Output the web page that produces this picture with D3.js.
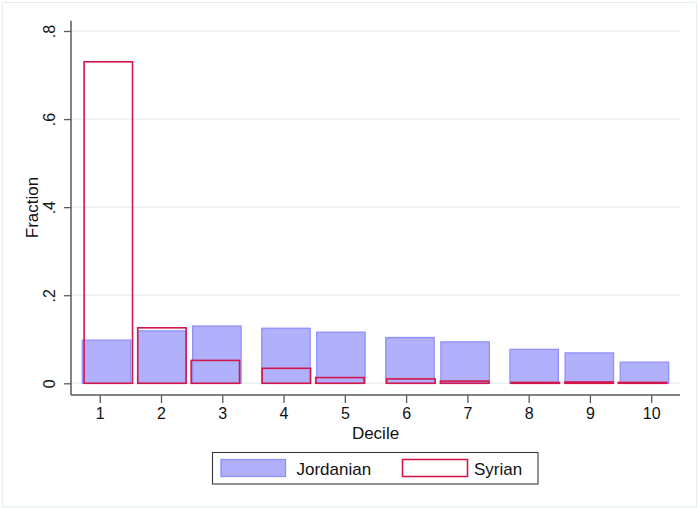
<!DOCTYPE html>
<html>
<head>
<meta charset="utf-8">
<script src="https://cdn.jsdelivr.net/npm/d3@7"></script>
<style>
  html, body { margin: 0; padding: 0; background: #fff; }
  svg { display: block; font-family: "Liberation Sans", Arial, Helvetica, sans-serif; }
</style>
</head>
<body>
<svg id="chart" width="698" height="508"></svg>
<script>
// ---- data ----
const deciles = [1, 2, 3, 4, 5, 6, 7, 8, 9, 10];
// histogram bin centres (decile units) as drawn by the original
const jordanianBinCenters = [1.111, 2.015, 2.912, 4.039, 4.936, 6.063, 6.963, 8.090, 8.990, 9.890];
const syrianBinCenters    = [1.140, 2.015, 2.887, 4.046, 4.920, 6.079, 6.955, 8.109, 8.987, 9.858];
const binWidth = 0.79;
const jordanianFraction = [0.098, 0.119, 0.130, 0.125, 0.116, 0.104, 0.094, 0.077, 0.069, 0.048];
const syrianFraction    = [0.730, 0.126, 0.052, 0.034, 0.013, 0.010, 0.005, 0.002, 0.003, 0.002];
const yTicks = [0, 0.2, 0.4, 0.6, 0.8];
const yTickLabels = ["0", ".2", ".4", ".6", ".8"];
const xTickLabels = ["1", "2", "3", "4", "5", "6", "7", "8", "9", "10"];
const seriesNames = ["Jordanian", "Syrian"];
const xTitle = "Decile";
const yTitle = "Fraction";

// ---- layout ----
const svg = d3.select("#chart");
const plotLeft = 71, plotRight = 680, plotTop = 20.7, plotBottom = 395;

const x = d3.scaleLinear().domain([0.531, 10.47]).range([plotLeft, plotRight]);
const y = d3.scaleLinear().domain([0, 0.8]).range([383.3, 31]);

const jordFill = "#b0b0fb", jordStroke = "#8f8ffd";
const syrStroke = "#d3164c";
const axisColor = "#5a5a5a";
const gridColor = "#eaf1f3";

// outer frame
svg.append("rect").attr("x", 2.5).attr("y", 2.5).attr("width", 694).attr("height", 504.5)
  .attr("fill", "#fff").attr("stroke", "#e6eef0").attr("stroke-width", 1.2);

// gridlines
svg.append("g").selectAll("line").data(yTicks).join("line")
  .attr("x1", plotLeft).attr("x2", plotRight)
  .attr("y1", d => y(d)).attr("y2", d => y(d))
  .attr("stroke", gridColor).attr("stroke-width", 1.5);

// Jordanian bars
svg.append("g").selectAll("rect").data(jordanianFraction).join("rect")
  .attr("x", (d, i) => x(jordanianBinCenters[i] - binWidth / 2))
  .attr("width", (d, i) => x(jordanianBinCenters[i] + binWidth / 2) - x(jordanianBinCenters[i] - binWidth / 2))
  .attr("y", d => y(d))
  .attr("height", d => y(0) - y(d))
  .attr("fill", jordFill).attr("stroke", jordStroke).attr("stroke-width", 1.3);

// Syrian bars (outline)
svg.append("g").selectAll("rect").data(syrianFraction).join("rect")
  .attr("x", (d, i) => x(syrianBinCenters[i] - binWidth / 2))
  .attr("width", (d, i) => x(syrianBinCenters[i] + binWidth / 2) - x(syrianBinCenters[i] - binWidth / 2))
  .attr("y", d => y(d))
  .attr("height", d => Math.max(0.5, y(0) - y(d)))
  .attr("fill", "none").attr("stroke", syrStroke).attr("stroke-width", 1.6);

// y axis
const yAxis = d3.axisLeft(y).tickValues(yTicks).tickFormat((d, i) => yTickLabels[i])
  .tickSize(7).tickPadding(0);
const gy = svg.append("g").attr("transform", `translate(${plotLeft},0)`).call(yAxis);
gy.select(".domain").remove();
gy.selectAll(".tick line").attr("stroke", axisColor).attr("stroke-width", 1.3);
gy.selectAll(".tick text")
  .attr("x", null).attr("dy", null)
  .attr("transform", "translate(-16,0) rotate(-90)")
  .attr("text-anchor", "middle")
  .attr("fill", "#111").attr("font-size", 16)
  .attr("font-family", "Liberation Sans, Arial, sans-serif");
svg.append("line").attr("x1", plotLeft).attr("x2", plotLeft)
  .attr("y1", plotTop).attr("y2", plotBottom)
  .attr("stroke", axisColor).attr("stroke-width", 1.5);

// x axis
const xAxis = d3.axisBottom(x).tickValues(deciles).tickFormat((d, i) => xTickLabels[i])
  .tickSize(8).tickPadding(5);
const gx = svg.append("g").attr("transform", `translate(0,${plotBottom})`).call(xAxis);
gx.select(".domain").remove();
gx.selectAll(".tick line").attr("stroke", axisColor).attr("stroke-width", 1.3);
gx.selectAll(".tick text").attr("fill", "#111").attr("font-size", 16)
  .attr("font-family", "Liberation Sans, Arial, sans-serif");
svg.append("line").attr("x1", plotLeft).attr("x2", plotRight)
  .attr("y1", plotBottom).attr("y2", plotBottom)
  .attr("stroke", axisColor).attr("stroke-width", 1.5);

// axis titles
svg.append("text").attr("x", (plotLeft + plotRight) / 2).attr("y", 438.5)
  .attr("text-anchor", "middle").attr("font-size", 17).attr("fill", "#111").text(xTitle);
svg.append("text").attr("transform", "translate(37.5,207.5) rotate(-90)")
  .attr("text-anchor", "middle").attr("font-size", 17).attr("fill", "#111").text(yTitle);

// legend
const lg = svg.append("g");
lg.append("rect").attr("x", 212.5).attr("y", 452.5).attr("width", 325.5).attr("height", 31.5)
  .attr("fill", "#fff").attr("stroke", "#3a3a3a").attr("stroke-width", 1.1);
lg.append("rect").attr("x", 221).attr("y", 459.5).attr("width", 64.5).attr("height", 17)
  .attr("fill", jordFill).attr("stroke", jordStroke).attr("stroke-width", 1.3);
lg.append("text").attr("x", 296.5).attr("y", 474.5).attr("font-size", 17).attr("fill", "#111").text(seriesNames[0]);
lg.append("rect").attr("x", 402.5).attr("y", 459.5).attr("width", 65).attr("height", 17)
  .attr("fill", "#fff").attr("stroke", syrStroke).attr("stroke-width", 1.6);
lg.append("text").attr("x", 474).attr("y", 474.5).attr("font-size", 17).attr("fill", "#111").text(seriesNames[1]);
</script>
</body>
</html>
